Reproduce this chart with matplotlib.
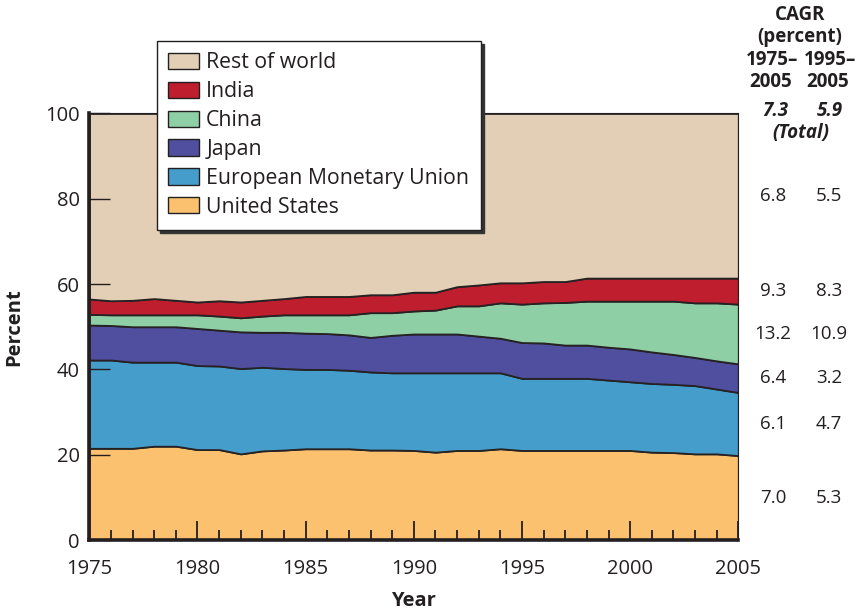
import matplotlib
matplotlib.use("Agg")
import matplotlib.pyplot as plt
from matplotlib.patches import Patch
import numpy as np

plt.rcParams['font.family'] = ['Open Sans', 'DejaVu Sans']

years = list(range(1975, 2006))

united_states = [21.5, 21.5, 21.5, 22.0, 22.0, 21.2, 21.2, 20.2, 20.9, 21.1,
                 21.4, 21.4, 21.4, 21.1, 21.1, 21.0, 20.6, 21.0, 21.0, 21.4,
                 21.0, 21.0, 21.0, 21.0, 21.0, 21.0, 20.6, 20.5, 20.2, 20.2, 19.8]
emu = [20.7, 20.7, 20.2, 19.7, 19.7, 19.7, 19.6, 20.0, 19.6, 19.1,
       18.6, 18.6, 18.4, 18.3, 18.1, 18.2, 18.6, 18.2, 18.2, 17.8,
       16.9, 16.9, 16.9, 16.9, 16.5, 16.1, 16.1, 16.0, 16.0, 15.2, 14.8]
japan = [8.2, 8.1, 8.3, 8.3, 8.3, 8.7, 8.4, 8.6, 8.2, 8.5,
         8.5, 8.4, 8.3, 8.1, 8.8, 9.1, 9.1, 9.1, 8.6, 8.1,
         8.4, 8.3, 7.8, 7.8, 7.7, 7.7, 7.4, 7.0, 6.6, 6.6, 6.7]
china = [2.5, 2.5, 2.8, 2.8, 2.8, 3.2, 3.3, 3.3, 3.8, 4.1,
         4.3, 4.4, 4.7, 5.8, 5.3, 5.4, 5.6, 6.6, 7.1, 8.3,
         9.0, 9.4, 10.0, 10.3, 10.8, 11.2, 11.9, 12.5, 12.8, 13.6, 14.0]
india = [3.6, 3.3, 3.4, 3.8, 3.4, 3.0, 3.6, 3.7, 3.7, 3.8,
         4.3, 4.3, 4.3, 4.2, 4.2, 4.4, 4.2, 4.5, 4.9, 4.7,
         5.0, 5.0, 4.9, 5.4, 5.4, 5.4, 5.4, 5.4, 5.8, 5.8, 6.1]
rest_of_world = [43.5, 43.9, 43.8, 43.4, 43.8, 44.2, 43.9, 44.2, 43.8, 43.4,
                 42.9, 42.9, 42.9, 42.5, 42.5, 41.9, 41.9, 40.6, 40.2, 39.7,
                 39.7, 39.4, 39.4, 38.6, 38.6, 38.6, 38.6, 38.6, 38.6, 38.6, 38.6]

series_names = ["United States", "European Monetary Union", "Japan", "China",
                "India", "Rest of world"]
colors = ["#FCC16E", "#459DCB", "#4F4E9F", "#8FCFA5", "#BE1E2D", "#E2CFB5"]

cagr_1975_2005 = ["7.0", "6.1", "6.4", "13.2", "9.3", "6.8"]
cagr_1995_2005 = ["5.3", "4.7", "3.2", "10.9", "8.3", "5.5"]
total_cagr = ["7.3", "5.9"]

series = [united_states, emu, japan, china, india, rest_of_world]

fig = plt.figure(figsize=(8.59, 6.12), dpi=100)
ax = fig.add_axes([0.104, 0.1176, 0.7555, 0.697])

ax.stackplot(years, *series, colors=colors, edgecolor="#262223", linewidth=1.3)

ax.set_xlim(1975, 2005)
ax.set_ylim(0, 100)
ax.set_xticks(range(1975, 2006, 5))
ax.set_xticks(range(1975, 2006), minor=True)
ax.set_yticks(range(0, 101, 20))
ax.tick_params(axis='x', which='major', direction='in', length=14, width=1.3,
               colors='#231F20', labelsize=14.5, pad=14)
ax.tick_params(axis='x', which='minor', direction='in', length=7.5, width=1.3,
               colors='#231F20')
ax.tick_params(axis='y', which='major', direction='in', length=15, width=1.0,
               colors='#231F20', labelsize=14.5, pad=7)

for side in ['left', 'bottom']:
    ax.spines[side].set_linewidth(2.6)
    ax.spines[side].set_color('#231F20')
for side in ['top', 'right']:
    ax.spines[side].set_linewidth(0.8)
    ax.spines[side].set_color('#231F20')

ax.set_xlabel("Year", fontsize=14.5, fontweight='bold', labelpad=8, color='#231F20')
fig.text(0.0163, 0.465, "Percent", rotation=90, fontsize=14.5, fontweight='bold',
         ha='center', va='center', color='#231F20')

# legend
handles = [Patch(facecolor=c, edgecolor='#231F20', linewidth=1.0, label=n)
           for n, c in zip(series_names, colors)][::-1]
leg = fig.legend(handles=handles, loc='upper left',
                 bbox_to_anchor=(156.5 / 859, 1 - 40.5 / 612), borderaxespad=0,
                 fontsize=15.3, frameon=True, fancybox=False, framealpha=1,
                 edgecolor='#231F20', handlelength=1.42, handleheight=0.8,
                 handletextpad=0.36, labelspacing=0.37, borderpad=0.56,
                 shadow={'color': '#333333', 'alpha': 1.0, 'ox': 2.2, 'oy': -2.2})
leg.get_frame().set_linewidth(1.0)
for t in leg.get_texts():
    t.set_color('#231F20')

# CAGR annotations
tc = '#231F20'
hs = 13.5
fig.text(800 / 859, 1 - 15 / 612, "CAGR", ha='center', va='center', fontsize=hs,
         fontweight='bold', color=tc)
fig.text(800 / 859, 1 - 37 / 612, "(percent)", ha='center', va='center', fontsize=hs,
         fontweight='bold', color=tc)
fig.text(772 / 859, 1 - 60 / 612, "1975–", ha='center', va='center', fontsize=hs,
         fontweight='bold', color=tc)
fig.text(830 / 859, 1 - 60 / 612, "1995–", ha='center', va='center', fontsize=hs,
         fontweight='bold', color=tc)
fig.text(771 / 859, 1 - 82 / 612, "2005", ha='center', va='center', fontsize=hs,
         fontweight='bold', color=tc)
fig.text(828 / 859, 1 - 82 / 612, "2005", ha='center', va='center', fontsize=hs,
         fontweight='bold', color=tc)
fig.text(775 / 859, 1 - 111 / 612, total_cagr[0], ha='center', va='center',
         fontsize=hs, fontweight='bold', style='italic', color=tc)
fig.text(830 / 859, 1 - 111 / 612, total_cagr[1], ha='center', va='center',
         fontsize=hs, fontweight='bold', style='italic', color=tc)
fig.text(801 / 859, 1 - 133 / 612, "(Total)", ha='center', va='center', fontsize=hs,
         fontweight='bold', style='italic', color=tc)

cum = np.cumsum(np.array(series), axis=0)
lower = np.vstack([np.zeros(len(years)), cum[:-1]])
mids = (cum[:, -1] + lower[:, -1]) / 2
for m, a, b in zip(mids, cagr_1975_2005, cagr_1995_2005):
    ax.text(2006.6, m, a, ha='center', va='center', fontsize=13.5, color=tc,
            clip_on=False)
    ax.text(2009.2, m, b, ha='center', va='center', fontsize=13.5, color=tc,
            clip_on=False)

fig.savefig("out.png", dpi=100)
